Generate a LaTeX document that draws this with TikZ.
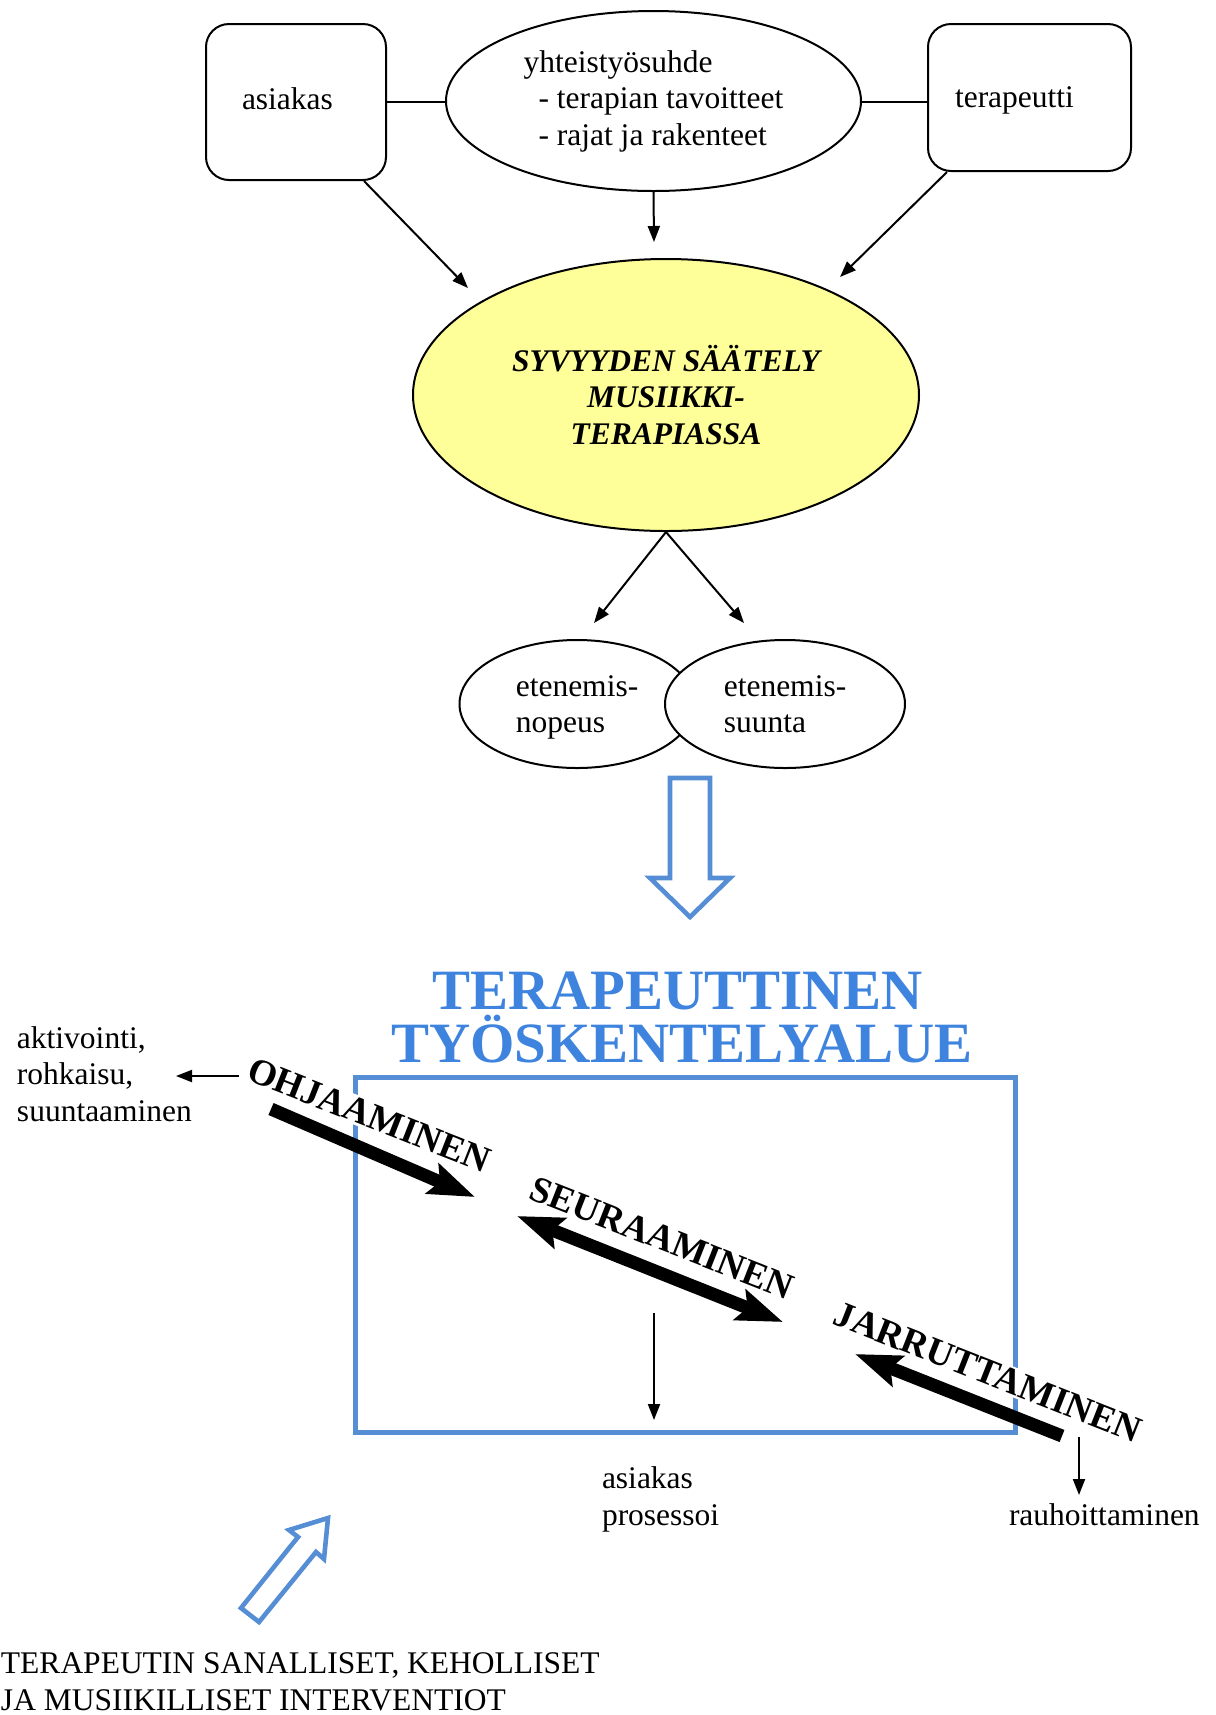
\documentclass[tikz,border=0pt]{standalone}
\usepackage{fontspec}
\setmainfont{Liberation Serif}
\usetikzlibrary{positioning}
\usetikzlibrary{shapes.geometric,arrows.meta}
\definecolor{areablue}{RGB}{85,142,213}
\definecolor{titleblue}{RGB}{62,132,222}
\definecolor{depthyellow}{RGB}{255,255,153}
\tikzset{%
  box/.style      = {draw, line width=1pt, rectangle, rounded corners=11.5pt,
    align=left, inner ysep=0pt, text height=10.8pt, text depth=3.4pt},
  oval/.style     = {draw, line width=1pt, ellipse, inner sep=0pt, align=left},
  plain/.style    = {inner sep=0pt, align=left, anchor=base west}, % base = last line
  headline/.style = {inner sep=0pt, anchor=base, text=titleblue,
    font=\fontsize{28.5}{26}\selectfont\bfseries},
  wordart/.style  = {font=\fontsize{18.5}{20}\selectfont\bfseries, fill=white,
    inner sep=1pt, rotate=-21.5},
  fat/.style      = {line width=6.5pt, -{Stealth[length=23pt,width=16pt,inset=4pt]}},
  fatboth/.style  = {line width=6.5pt,
    {Stealth[length=23pt,width=16pt,inset=4pt]}-{Stealth[length=23pt,width=16pt,inset=4pt]}},
  hollow/.style   = {draw=areablue, line width=2.3pt, line join=miter}
}

\begin{document}
\begin{tikzpicture}[x=0.5pt, y=-0.5pt, line width=1pt,
  >={Triangle[length=8pt,width=6pt]},
  font=\fontsize{15.75}{18.25}\selectfont]

  \useasboundingbox (0,0) rectangle (1216,1715);

  % top row
  \node[box, minimum width=90pt, minimum height=78pt, inner xsep=18pt,
    text width=54pt] (asiakas) at (296,102) {asiakas};
  \node[oval, minimum width=207.5pt, minimum height=90pt] (yhteis) at (653.5,101)
    {yhteistyösuhde\\\hspace*{7.5pt}- terapian tavoitteet\\\hspace*{7.5pt}- rajat ja rakenteet};
  \node[box, minimum width=101.5pt, minimum height=73.5pt, inner xsep=13.5pt,
    text width=74.5pt, text height=13.8pt] (terapeutti) at (1029.5,97.5) {terapeutti};

  \draw (asiakas.east) -- (asiakas.east -| yhteis.west);
  \draw (yhteis.east |- asiakas.east) -- (terapeutti.west |- asiakas.east);

  % depth regulation
  \node[oval, fill=depthyellow, minimum width=253pt, minimum height=136pt, align=center,
    font=\fontsize{15.75}{18.25}\selectfont\bfseries\itshape] (syvyys) at (666,395)
    {SYVYYDEN SÄÄTELY\\MUSIIKKI-\\TERAPIASSA};

  \coordinate (yhteistip) at (654,242);
  \coordinate (syvyysnw) at (468,288);
  \coordinate (syvyysne) at (840,277);
  \draw[->] (yhteis.south) -- (yhteistip);
  \draw[->] ([xshift=-11.5pt]asiakas.south east) -- (syvyysnw);
  \draw[->] ([xshift=10pt]terapeutti.south west) -- (syvyysne);

  % speed and direction
  \node[oval, minimum width=117.5pt, minimum height=64pt, text depth=0pt] (nopeus)
    at (577,704) {etenemis-\\nopeus};
  \node[oval, fill=white, minimum width=120pt, minimum height=64pt] (suunta) at (785,704)
    {etenemis-\\suunta};

  \coordinate (nopeustip) at (594,623);
  \coordinate (suuntatip) at (744,623);
  \draw[->] (syvyys.south) -- (nopeustip);
  \draw[->] (syvyys.south) -- (suuntatip);

  \draw[hollow] (670,778) -- (710,778) -- (710,878) -- (730,878) -- (690,917)
    -- (650,878) -- (670,878) -- cycle;

  % working area
  \node[headline] (title1) at (677.5,1009) {TERAPEUTTINEN};
  \node[headline] (title2) at (682,1062) {TYÖSKENTELYALUE};
  \node[draw=areablue, line width=2.5pt, minimum width=330pt, minimum height=177.5pt,
    inner sep=0pt] (alue) at (685,1254.5) {};

  \node[wordart] (ohjaus) at (369,1115) {OHJAAMINEN};
  \node[wordart] (seuranta) at (662,1238) {SEURAAMINEN};
  \node[wordart] (jarrutus) at (988,1372) {JARRUTTAMINEN};

  \coordinate (ohjtail) at (271,1109);
  \coordinate (ohjtip) at (475,1197);
  \coordinate (seurleft) at (517,1216);
  \coordinate (seurright) at (783,1322);
  \coordinate (jarrtail) at (1062,1436);
  \coordinate (jarrtip) at (855,1354);
  \draw[fat] (ohjtail) -- (ohjtip);
  \draw[fatboth] (seurleft) -- (seurright);
  \draw[fat] (jarrtail) -- (jarrtip);

  % outcomes
  \node[plain] (aktivointi) at (16,1121) {aktivointi,\\rohkaisu,\\suuntaaminen};
  \node[plain] (prosessoi) at (601,1525) {asiakas\\prosessoi};
  \node[plain] (rauhoitus) at (1008,1525) {rauhoittaminen};

  \coordinate (akttail) at (239,1076);
  \coordinate (akttip) at (176,1076);
  \coordinate (prostail) at (654,1313);
  \coordinate (prostip) at (654,1420);
  \coordinate (rauhtail) at (1079,1437);
  \coordinate (rauhtip) at (1079,1495);
  \draw[->] (akttail) -- (akttip);
  \draw[->] (prostail) -- (prostip);
  \draw[->] (rauhtail) -- (rauhtip);

  % interventions
  \draw[hollow] (259,1622) -- (316,1552) -- (324,1559) -- (328,1518) -- (289,1530)
    -- (298,1537) -- (241,1608) -- cycle;
  \node[plain] (interventiot) at (0,1710)
    {TERAPEUTIN SANALLISET, KEHOLLISET\\JA MUSIIKILLISET INTERVENTIOT};

\end{tikzpicture}
\end{document}
